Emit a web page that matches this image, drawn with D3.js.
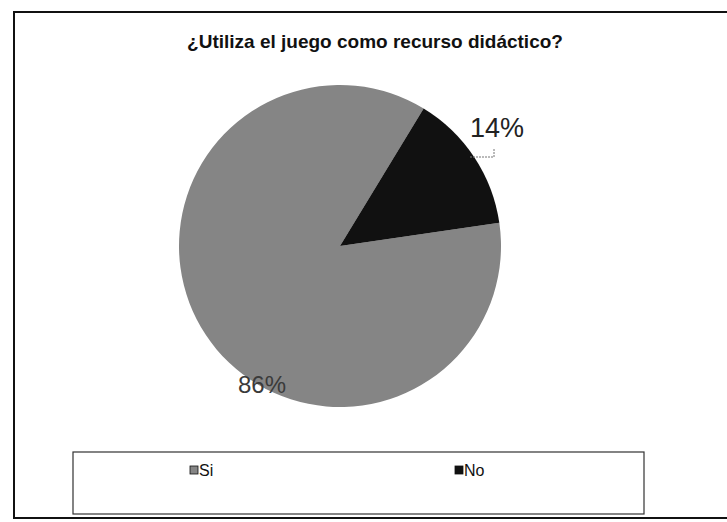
<!DOCTYPE html>
<html>
<head>
<meta charset="utf-8">
<script src="https://cdn.jsdelivr.net/npm/d3@7"></script>
<style>
  html, body { margin: 0; padding: 0; background: #fff; }
  svg { display: block; }
</style>
</head>
<body>
<svg id="chart" width="727" height="522"></svg>
<script>
const title = "¿Utiliza el juego como recurso didáctico?";
const categories = ["Si", "No"];
const values = [86, 14];
const colors = ["#858585", "#111111"];

const svg = d3.select("#chart");

// outer frame
svg.append("rect")
  .attr("x", 14).attr("y", 12).attr("width", 730).attr("height", 506)
  .attr("fill", "none").attr("stroke", "#111").attr("stroke-width", 2);

// title
svg.append("text")
  .attr("x", 375).attr("y", 48)
  .attr("text-anchor", "middle")
  .attr("font-family", "Liberation Sans, Arial, sans-serif")
  .attr("font-weight", "bold")
  .attr("font-size", 19)
  .attr("fill", "#111")
  .text(title);

// pie
const cx = 340, cy = 246, r = 161;
const data = categories.map((c, i) => ({ cat: c, value: values[i], color: colors[i] }));
const startDeg = 81.7;
const pie = d3.pie().value(d => d.value).sort(null)
  .startAngle(startDeg * Math.PI / 180)
  .endAngle(startDeg * Math.PI / 180 + 2 * Math.PI);
const arcs = pie(data);
const arc = d3.arc().innerRadius(0).outerRadius(r);

const g = svg.append("g").attr("transform", `translate(${cx},${cy})`);
g.selectAll("path").data(arcs).enter().append("path")
  .attr("d", arc)
  .attr("fill", d => d.data.color);

const pctScale = d3.scaleLinear().domain([0, d3.sum(values)]).range([0, 100]);
const fmt = v => Math.round(pctScale(v)) + "%";

// labels
const labelPos = { "Si": [-78, 147], "No": [157, -109] };
const labelColor = { "Si": "#3a3a3a", "No": "#222" };
const labelSize = { "Si": 24, "No": 27 };
g.selectAll("text.lbl").data(arcs).enter().append("text")
  .attr("class", "lbl")
  .attr("x", d => labelPos[d.data.cat][0])
  .attr("y", d => labelPos[d.data.cat][1])
  .attr("text-anchor", "middle")
  .attr("font-family", "Liberation Sans, Arial, sans-serif")
  .attr("font-size", d => labelSize[d.data.cat])
  .attr("fill", d => labelColor[d.data.cat])
  .text(d => fmt(d.data.value));

// small leader line for the "No" label
g.append("path")
  .attr("d", "M130,-89 L154,-89 L154,-98")
  .attr("fill", "none").attr("stroke", "#777").attr("stroke-width", 1)
  .attr("stroke-dasharray", "2,1");

// legend box
svg.append("rect")
  .attr("x", 73).attr("y", 452).attr("width", 571).attr("height", 62)
  .attr("fill", "none").attr("stroke", "#333").attr("stroke-width", 1.2);

const legendX = d3.scaleOrdinal().domain(categories).range([190, 455]);
const lg = svg.selectAll("g.leg").data(data).enter().append("g")
  .attr("class", "leg")
  .attr("transform", d => `translate(${legendX(d.cat)},466)`);
lg.append("rect")
  .attr("x", 0).attr("y", 0).attr("width", 8).attr("height", 8)
  .attr("fill", d => d.color).attr("stroke", "#111").attr("stroke-width", 0.8);
lg.append("text")
  .attr("x", 9).attr("y", 9.5)
  .attr("font-family", "Liberation Sans, Arial, sans-serif")
  .attr("font-size", 16)
  .attr("fill", "#111")
  .text(d => d.cat);
</script>
</body>
</html>
